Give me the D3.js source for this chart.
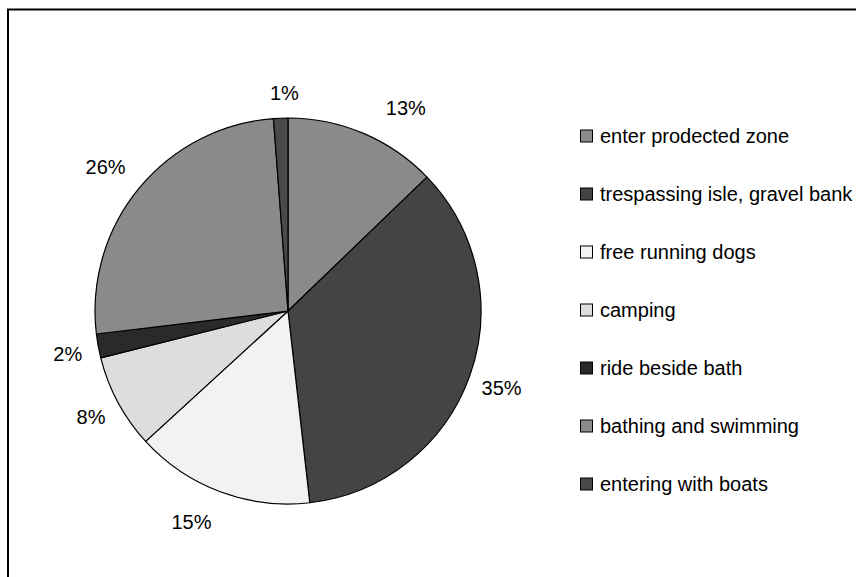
<!DOCTYPE html>
<html>
<head>
<meta charset="utf-8">
<script src="https://cdn.jsdelivr.net/npm/d3@7.9.0/dist/d3.min.js"></script>
<style>
  body { margin: 0; background: #fff; }
  svg { display: block; font-family: "Liberation Sans", Arial, sans-serif; }
</style>
</head>
<body>
<svg width="856" height="577"></svg>
<script>
// categories in drawing order (clockwise from 12 o'clock)
const categories = [
    "enter prodected zone",
    "trespassing isle, gravel bank",
    "free running dogs",
    "camping",
    "ride beside bath",
    "bathing and swimming",
    "entering with boats"
];
// shares in percent
const shares = [12.8, 35.4, 15.0, 7.9, 2.0, 25.7, 1.2];
const labels = ["13%", "35%", "15%", "8%", "2%", "26%", "1%"];
const greys = ["#8a8a8a", "#444444", "#f2f2f2", "#dddddd", "#2a2a2a", "#8a8a8a", "#4a4a4a"];

const svg = d3.select("svg");

// chart frame, cut off at right and bottom
svg.append("rect")
    .attr("x", 8).attr("y", 9.5)
    .attr("width", 900).attr("height", 600)
    .attr("fill", "none")
    .attr("stroke", "#000")
    .attr("stroke-width", 2);

const cx = 288, cy = 311, r = 193;
const data = categories.map((c, i) => ({ name: c, value: shares[i], label: labels[i], color: greys[i] }));

const pie = d3.pie().value(d => d.value).sort(null);
const arc = d3.arc().innerRadius(0).outerRadius(r);
const arcs = pie(data);

const g = svg.append("g").attr("transform", `translate(${cx},${cy})`);

g.selectAll("path.slice")
  .data(arcs)
  .enter()
  .append("path")
  .attr("class", "slice")
  .attr("d", arc)
  .attr("fill", d => d.data.color)
  .attr("stroke", "#000")
  .attr("stroke-width", 1.2)
  .attr("stroke-linejoin", "round");

// percent labels outside the pie; a few were dragged a bit in the original
const labelArc = d3.arc().innerRadius(r + 34).outerRadius(r + 34);
const labelShift = { "13%": [29, 6], "15%": [-17, -2], "1%": [5, 9], "26%": [-7, 0], "2%": [3, 2], "8%": [3, -1] };
g.selectAll("text.pct")
  .data(arcs)
  .enter()
  .append("text")
  .attr("class", "pct")
  .attr("transform", d => {
      const [x, y] = labelArc.centroid(d);
      const [sx, sy] = labelShift[d.data.label] || [0, 0];
      return `translate(${x + sx},${y + sy})`;
  })
  .attr("text-anchor", "middle")
  .attr("dy", "0.35em")
  .style("font-size", "20px")
  .attr("fill", "#000")
  .text(d => d.data.label);

// legend
const legend = svg.append("g").attr("transform", "translate(580,136)");
const rows = legend.selectAll("g")
  .data(data)
  .enter()
  .append("g")
  .attr("transform", (d, i) => `translate(0,${i * 58})`);

rows.append("rect")
  .attr("x", 0.5).attr("y", -6)
  .attr("width", 12).attr("height", 12)
  .attr("fill", d => d.color)
  .attr("stroke", "#000")
  .attr("stroke-width", 1);

rows.append("text")
  .attr("x", 20)
  .attr("dy", "0.35em")
  .style("font-size", "20px")
  .attr("fill", "#000")
  .text(d => d.name);
</script>
</body>
</html>
